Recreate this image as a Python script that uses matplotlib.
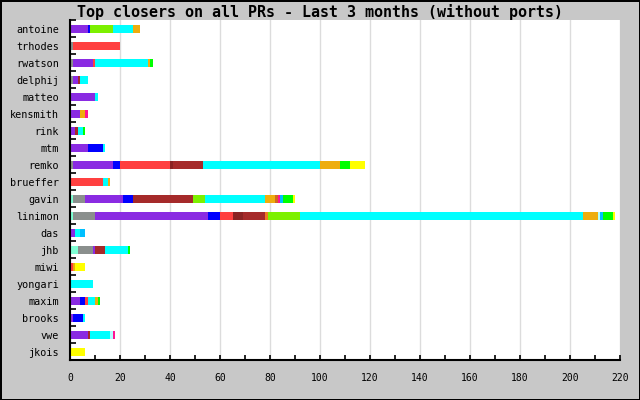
import numpy as np
import matplotlib
matplotlib.use("Agg")
import matplotlib.pyplot as plt
from matplotlib.ticker import MultipleLocator, FixedLocator

users = ["antoine", "trhodes", "rwatson", "delphij", "matteo", "kensmith", "rink",
         "mtm", "remko", "brueffer", "gavin", "linimon", "das", "jhb", "miwi",
         "yongari", "maxim", "brooks", "vwe", "jkois"]

# closed PRs per category, same user order as above
advocacy  = [0, 0, 0, 0, 0, 0, 0, 0, 0, 0, 1, 1, 0, 3, 0, 0, 0, 0, 0, 0]
amd64     = [0, 1, 1, 1, 0, 0, 0, 0, 1, 0, 5, 9, 0, 6, 0, 0, 0, 0, 0, 0]
bin_      = [7, 0, 8, 2, 10, 4, 2, 7, 16, 0, 15, 45, 2, 1, 0, 0, 4, 1, 7, 0]
conf      = [1, 0, 0, 0, 0, 0, 0, 6, 3, 0, 4, 5, 0, 0, 0, 0, 2, 4, 0, 0]
docs      = [0, 19, 1, 0, 0, 0, 0, 0, 20, 13, 0, 5, 0, 0, 1, 0, 1, 0, 0, 0]
gnu       = [0, 0, 0, 0, 0, 0, 0, 0, 1, 0, 0, 4, 0, 0, 0, 0, 0, 0, 0, 0]
i386      = [0, 0, 0, 1, 0, 0, 1, 0, 12, 0, 24, 9, 0, 4, 0, 0, 0, 0, 1, 0]
ia64      = [0, 0, 0, 0, 0, 0, 0, 0, 0, 0, 0, 1, 0, 0, 0, 0, 0, 0, 0, 0]
java      = [9, 0, 0, 0, 0, 0, 0, 0, 0, 0, 5, 13, 0, 0, 0, 0, 0, 0, 0, 0]
kern      = [8, 0, 21, 3, 1, 0, 2, 1, 47, 2, 24, 113, 2, 9, 0, 9, 3, 1, 8, 0]
misc      = [3, 0, 1, 0, 0, 2, 0, 0, 8, 1, 4, 6, 0, 0, 1, 0, 1, 0, 0, 0]
powerpc   = [0, 0, 0, 0, 0, 0, 0, 0, 0, 0, 1, 0, 0, 0, 0, 0, 0, 0, 0, 0]
sparc64   = [0, 0, 0, 0, 0, 0, 0, 0, 0, 0, 0, 1, 0, 0, 0, 0, 0, 0, 1, 0]
standards = [0, 0, 0, 0, 0, 1, 0, 0, 0, 0, 1, 0, 0, 0, 0, 0, 0, 0, 1, 0]
threads   = [0, 0, 0, 0, 0, 0, 0, 0, 0, 0, 1, 1, 2, 0, 0, 0, 0, 0, 0, 0]
usb       = [0, 0, 1, 0, 0, 0, 1, 0, 4, 0, 4, 4, 0, 1, 0, 0, 1, 0, 0, 0]
www       = [0, 0, 0, 0, 0, 0, 0, 0, 6, 0, 1, 1, 0, 0, 4, 0, 0, 0, 0, 6]

series = [advocacy, amd64, bin_, conf, docs, gnu, i386, ia64, java, kern, misc,
          powerpc, sparc64, standards, threads, usb, www]
colors = ["#7FFFD4", "#8A8F8D", "#8A2BE2", "#0000FF", "#FF4040", "#8B2323",
          "#A52A2A", "#F07820", "#7CF000", "#00FFFF", "#EEAD0E", "#D2691E",
          "#B0FFFF", "#FF1493", "#00BFFF", "#00FF00", "#FFFF00"]

mono = "DejaVu Sans Mono"
fig = plt.figure(figsize=(6.4, 4), dpi=100, facecolor="#C8C8C8",
                 edgecolor="black", linewidth=0.75)
ax = fig.add_axes([70 / 640, 1 - 360.3 / 400, 550 / 640, 340 / 400])
ax.set_facecolor("white")

y = np.arange(len(users))
left = np.zeros(len(users))
for vals, c in zip(series, colors):
    vals = np.array(vals, dtype=float)
    ax.barh(y, vals, left=left, height=0.47, color=c, linewidth=0, zorder=2)
    left += vals

ax.set_xlim(0, 220)
ax.set_ylim(len(users) - 0.5, -0.5)
ax.xaxis.set_major_locator(MultipleLocator(20))
ax.xaxis.set_minor_locator(MultipleLocator(10))
ax.grid(axis="x", which="major", color="#DCDCDC", linewidth=1, zorder=0)

ax.yaxis.set_major_locator(FixedLocator(np.arange(len(users) + 1) - 0.5))
ax.yaxis.set_minor_locator(FixedLocator(y))
ax.set_yticklabels([], minor=False)
ax.set_yticklabels(users, minor=True, fontfamily=mono, fontsize=7.3)
ax.tick_params(axis="y", which="major", direction="in", length=4.5, width=1.2)
ax.tick_params(axis="y", which="minor", length=0, pad=8)
ax.tick_params(axis="x", which="both", direction="in", length=3.5, width=1.2, pad=9)
for lbl in ax.get_xticklabels():
    lbl.set_fontfamily(mono)
    lbl.set_fontsize(7)

for s in ["top", "right"]:
    ax.spines[s].set_visible(False)
for s in ["left", "bottom"]:
    ax.spines[s].set_linewidth(1.5)

fig.text(0.5, 1 - 12 / 400, "Top closers on all PRs - Last 3 months (without ports)",
         ha="center", va="center", fontfamily=mono, fontsize=10.8, fontweight="bold")

fig.savefig("out.png", dpi=100, facecolor=fig.get_facecolor(),
            edgecolor=fig.get_edgecolor())
